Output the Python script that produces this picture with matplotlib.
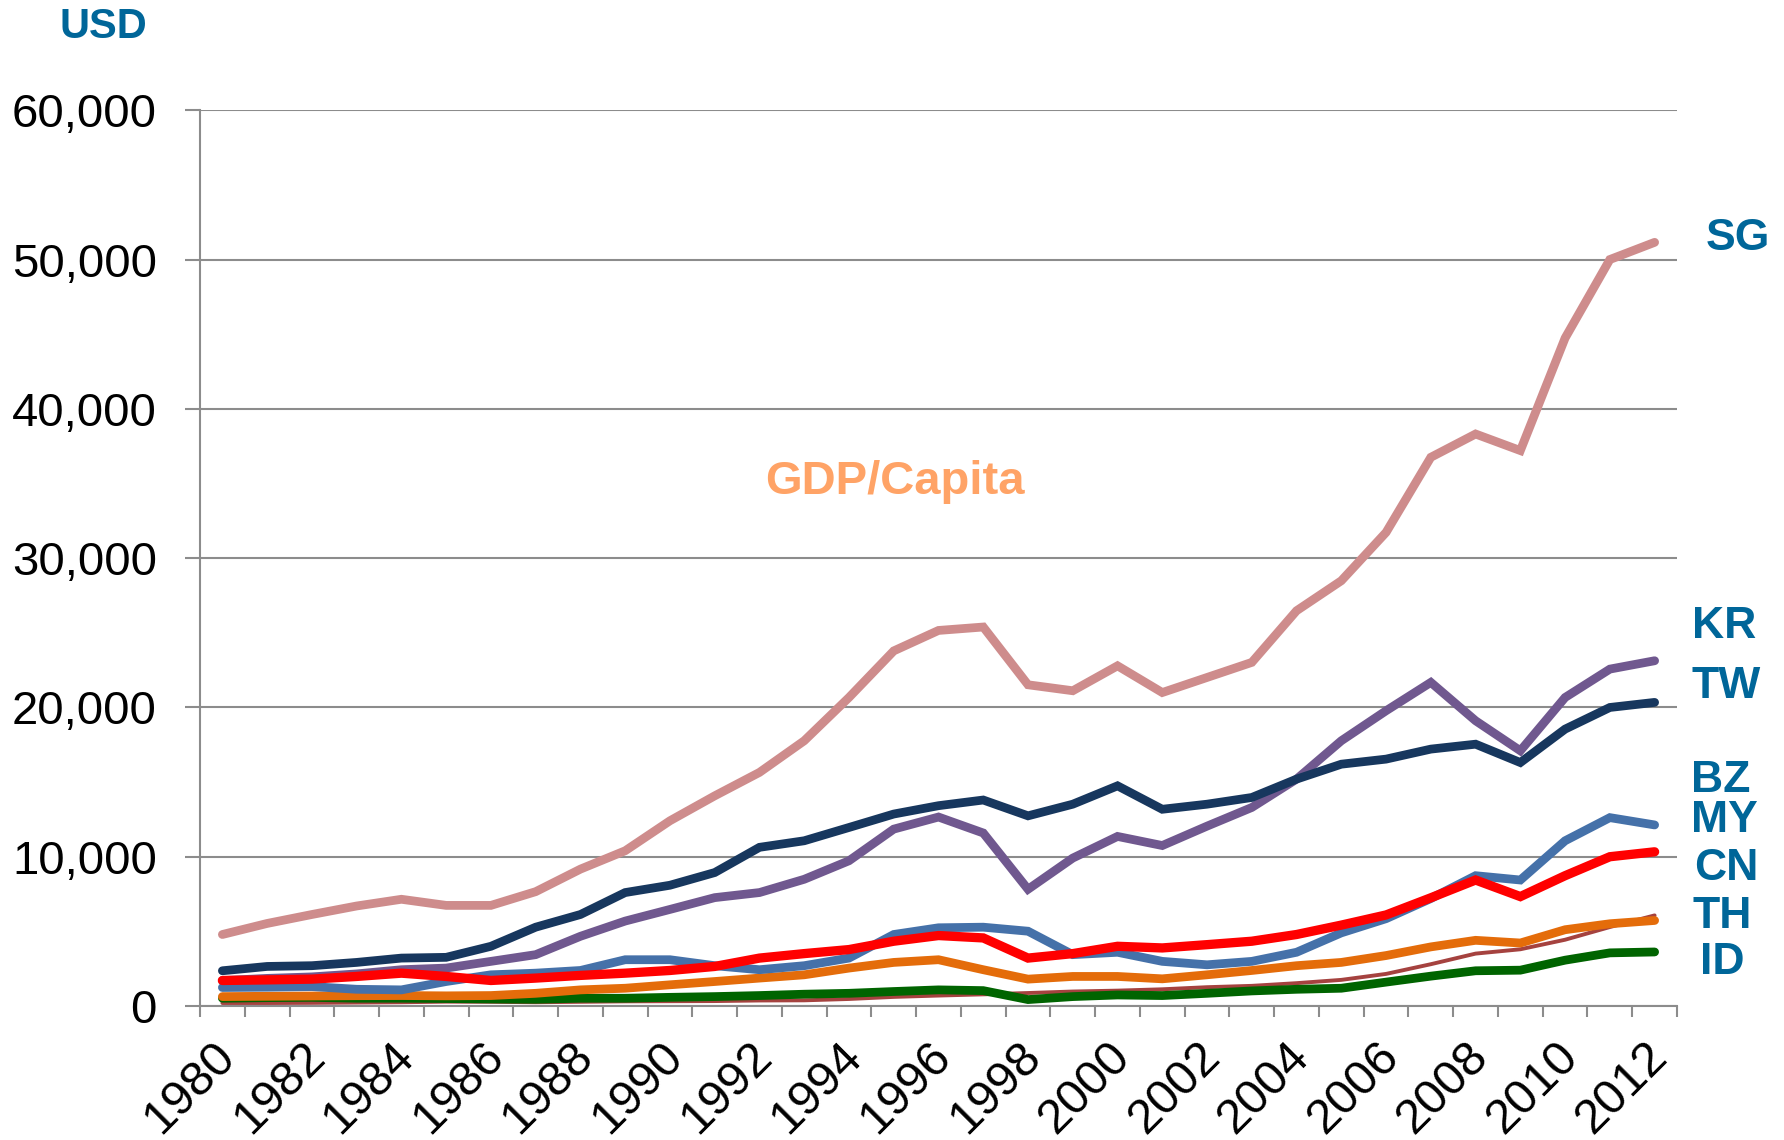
import matplotlib
matplotlib.use("Agg")
import matplotlib.pyplot as plt
import matplotlib.transforms as mtransforms
from matplotlib.ticker import FuncFormatter, FixedLocator

plt.rcParams['font.family'] = ['Liberation Sans', 'DejaVu Sans']

years = list(range(1980, 2013))

SG = [4790, 5530, 6130, 6700, 7150, 6740, 6740, 7660, 9170, 10400, 12410, 14080, 15650, 17770, 20670,
      23790, 25160, 25390, 21520, 21120, 22790, 21000, 22010, 23020, 26480, 28490, 31730, 36760, 38320,
      37210, 44750, 50010, 51160]
KR = [1700, 1850, 1950, 2150, 2430, 2540, 2990, 3440, 4670, 5690, 6470, 7260, 7600, 8490, 9730, 11850,
      12660, 11590, 7820, 9910, 11360, 10750, 12050, 13300, 15200, 17770, 19780, 21680, 19110, 17100,
      20670, 22570, 23130]
TW = [2360, 2650, 2700, 2920, 3210, 3260, 4000, 5280, 6130, 7600, 8090, 8940, 10630, 11070, 11960, 12860,
      13420, 13800, 12740, 13520, 14750, 13180, 13520, 13970, 15200, 16200, 16540, 17210, 17540, 16310,
      18550, 20000, 20340]
BZ = [1240, 1260, 1300, 1120, 1080, 1640, 2090, 2200, 2380, 3100, 3100, 2700, 2430, 2700, 3210, 4790,
      5240, 5280, 5010, 3440, 3600, 2990, 2760, 2990, 3600, 4900, 5850, 7200, 8730, 8440, 11070, 12620,
      12130]
MY = [1710, 1750, 1800, 1980, 2200, 1980, 1710, 1870, 2050, 2200, 2380, 2650, 3210, 3510, 3780, 4340,
      4720, 4560, 3210, 3510, 4000, 3890, 4110, 4340, 4790, 5420, 6100, 7250, 8440, 7330, 8730, 10000,
      10330]
CN = [200, 200, 210, 230, 250, 290, 280, 250, 280, 310, 320, 330, 370, 380, 470, 610, 700, 780, 870,
      970, 1030, 1120, 1260, 1350, 1530, 1750, 2150, 2800, 3510, 3800, 4440, 5290, 6070]
TH = [630, 650, 670, 690, 700, 680, 700, 850, 1080, 1190, 1420, 1640, 1870, 2090, 2540, 2920, 3100,
      2430, 1800, 1980, 1980, 1820, 2090, 2380, 2700, 2920, 3380, 3960, 4400, 4220, 5110, 5510, 5730]
ID = [520, 560, 580, 520, 520, 500, 470, 450, 520, 520, 580, 630, 700, 790, 850, 970, 1080, 1030, 430,
      630, 740, 700, 850, 1010, 1120, 1190, 1600, 2000, 2360, 2400, 3070, 3560, 3620]

labels = ["SG", "KR", "TW", "BZ", "MY", "CN", "TH", "ID"]
y_ticks = [0, 10000, 20000, 30000, 40000, 50000, 60000]
x_tick_labels = [str(y) for y in years[::2]]

W, H = 1784, 1140
fig = plt.figure(figsize=(W / 100, H / 100), dpi=100)
ax = fig.add_axes([200 / W, 1 - 1006 / H, 1477 / W, (1006 - 110.4) / H])

xs = list(range(len(years)))
series = [
    (CN, '#A5423F', 2.8),
    (ID, '#006400', 6.3),
    (TH, '#E46C0A', 6.3),
    (BZ, '#4571A9', 6.3),
    (KR, '#70588F', 6.3),
    (TW, '#17375E', 6.3),
    (MY, '#FF0000', 6.7),
    (SG, '#CE8C8C', 6.3),
]
for vals, col, lw in series:
    ax.plot(xs, vals, color=col, lw=lw, solid_capstyle='round', solid_joinstyle='miter')

ax.set_xlim(-0.5, len(years) - 0.5)
ax.set_ylim(0, 60000)
ax.set_yticks(y_ticks)
ax.yaxis.set_major_formatter(FuncFormatter(lambda v, p: f"{int(v):,}"))
ax.grid(axis='y', color='#8C8C8C', lw=1.5)
ax.set_axisbelow(True)
for s in ['top', 'right']:
    ax.spines[s].set_visible(False)
for s in ['left', 'bottom']:
    ax.spines[s].set_color('#8C8C8C')
    ax.spines[s].set_linewidth(1.5)

ax.tick_params(axis='y', labelsize=34, length=11, width=1.5, color='#8C8C8C', pad=20, labelcolor='black')

# tick marks at category boundaries, labels at every other category
ax.xaxis.set_major_locator(FixedLocator([i - 0.5 for i in range(len(years) + 1)]))
ax.xaxis.set_major_formatter(FuncFormatter(lambda v, p: ""))
ax.xaxis.set_minor_locator(FixedLocator(xs[::2]))
ax.set_xticklabels(x_tick_labels, minor=True)
ax.tick_params(axis='x', which='major', length=8, width=1.5, color='#8C8C8C', direction='out')
ax.tick_params(axis='x', which='minor', length=0, labelsize=35, pad=20)
offset = mtransforms.ScaledTranslation(-10 / 100, 0, fig.dpi_scale_trans)
for lab in ax.xaxis.get_minorticklabels():
    lab.set_rotation(45)
    lab.set_ha('right')
    lab.set_va('top')
    lab.set_rotation_mode('anchor')
    lab.set_transform(lab.get_transform() + offset)

lab_color = '#006699'
label_pos = [(1738, 238), (1724, 627), (1726, 687), (1721, 781), (1724, 821), (1726, 868), (1722, 916), (1722, 963)]
for name, (px, py) in zip(labels, label_pos):
    fig.text(px / W, 1 - py / H, name, color=lab_color, fontsize=32, fontweight='bold', ha='center', va='center')

fig.text(103.5 / W, 1 - 27 / H, "USD", color=lab_color, fontsize=30, fontweight='bold', ha='center', va='center')
fig.text(895 / W, 1 - 482 / H, "GDP/Capita", color='#FFA366', fontsize=34, fontweight='bold', ha='center', va='center')

fig.savefig("out.png", dpi=100)
